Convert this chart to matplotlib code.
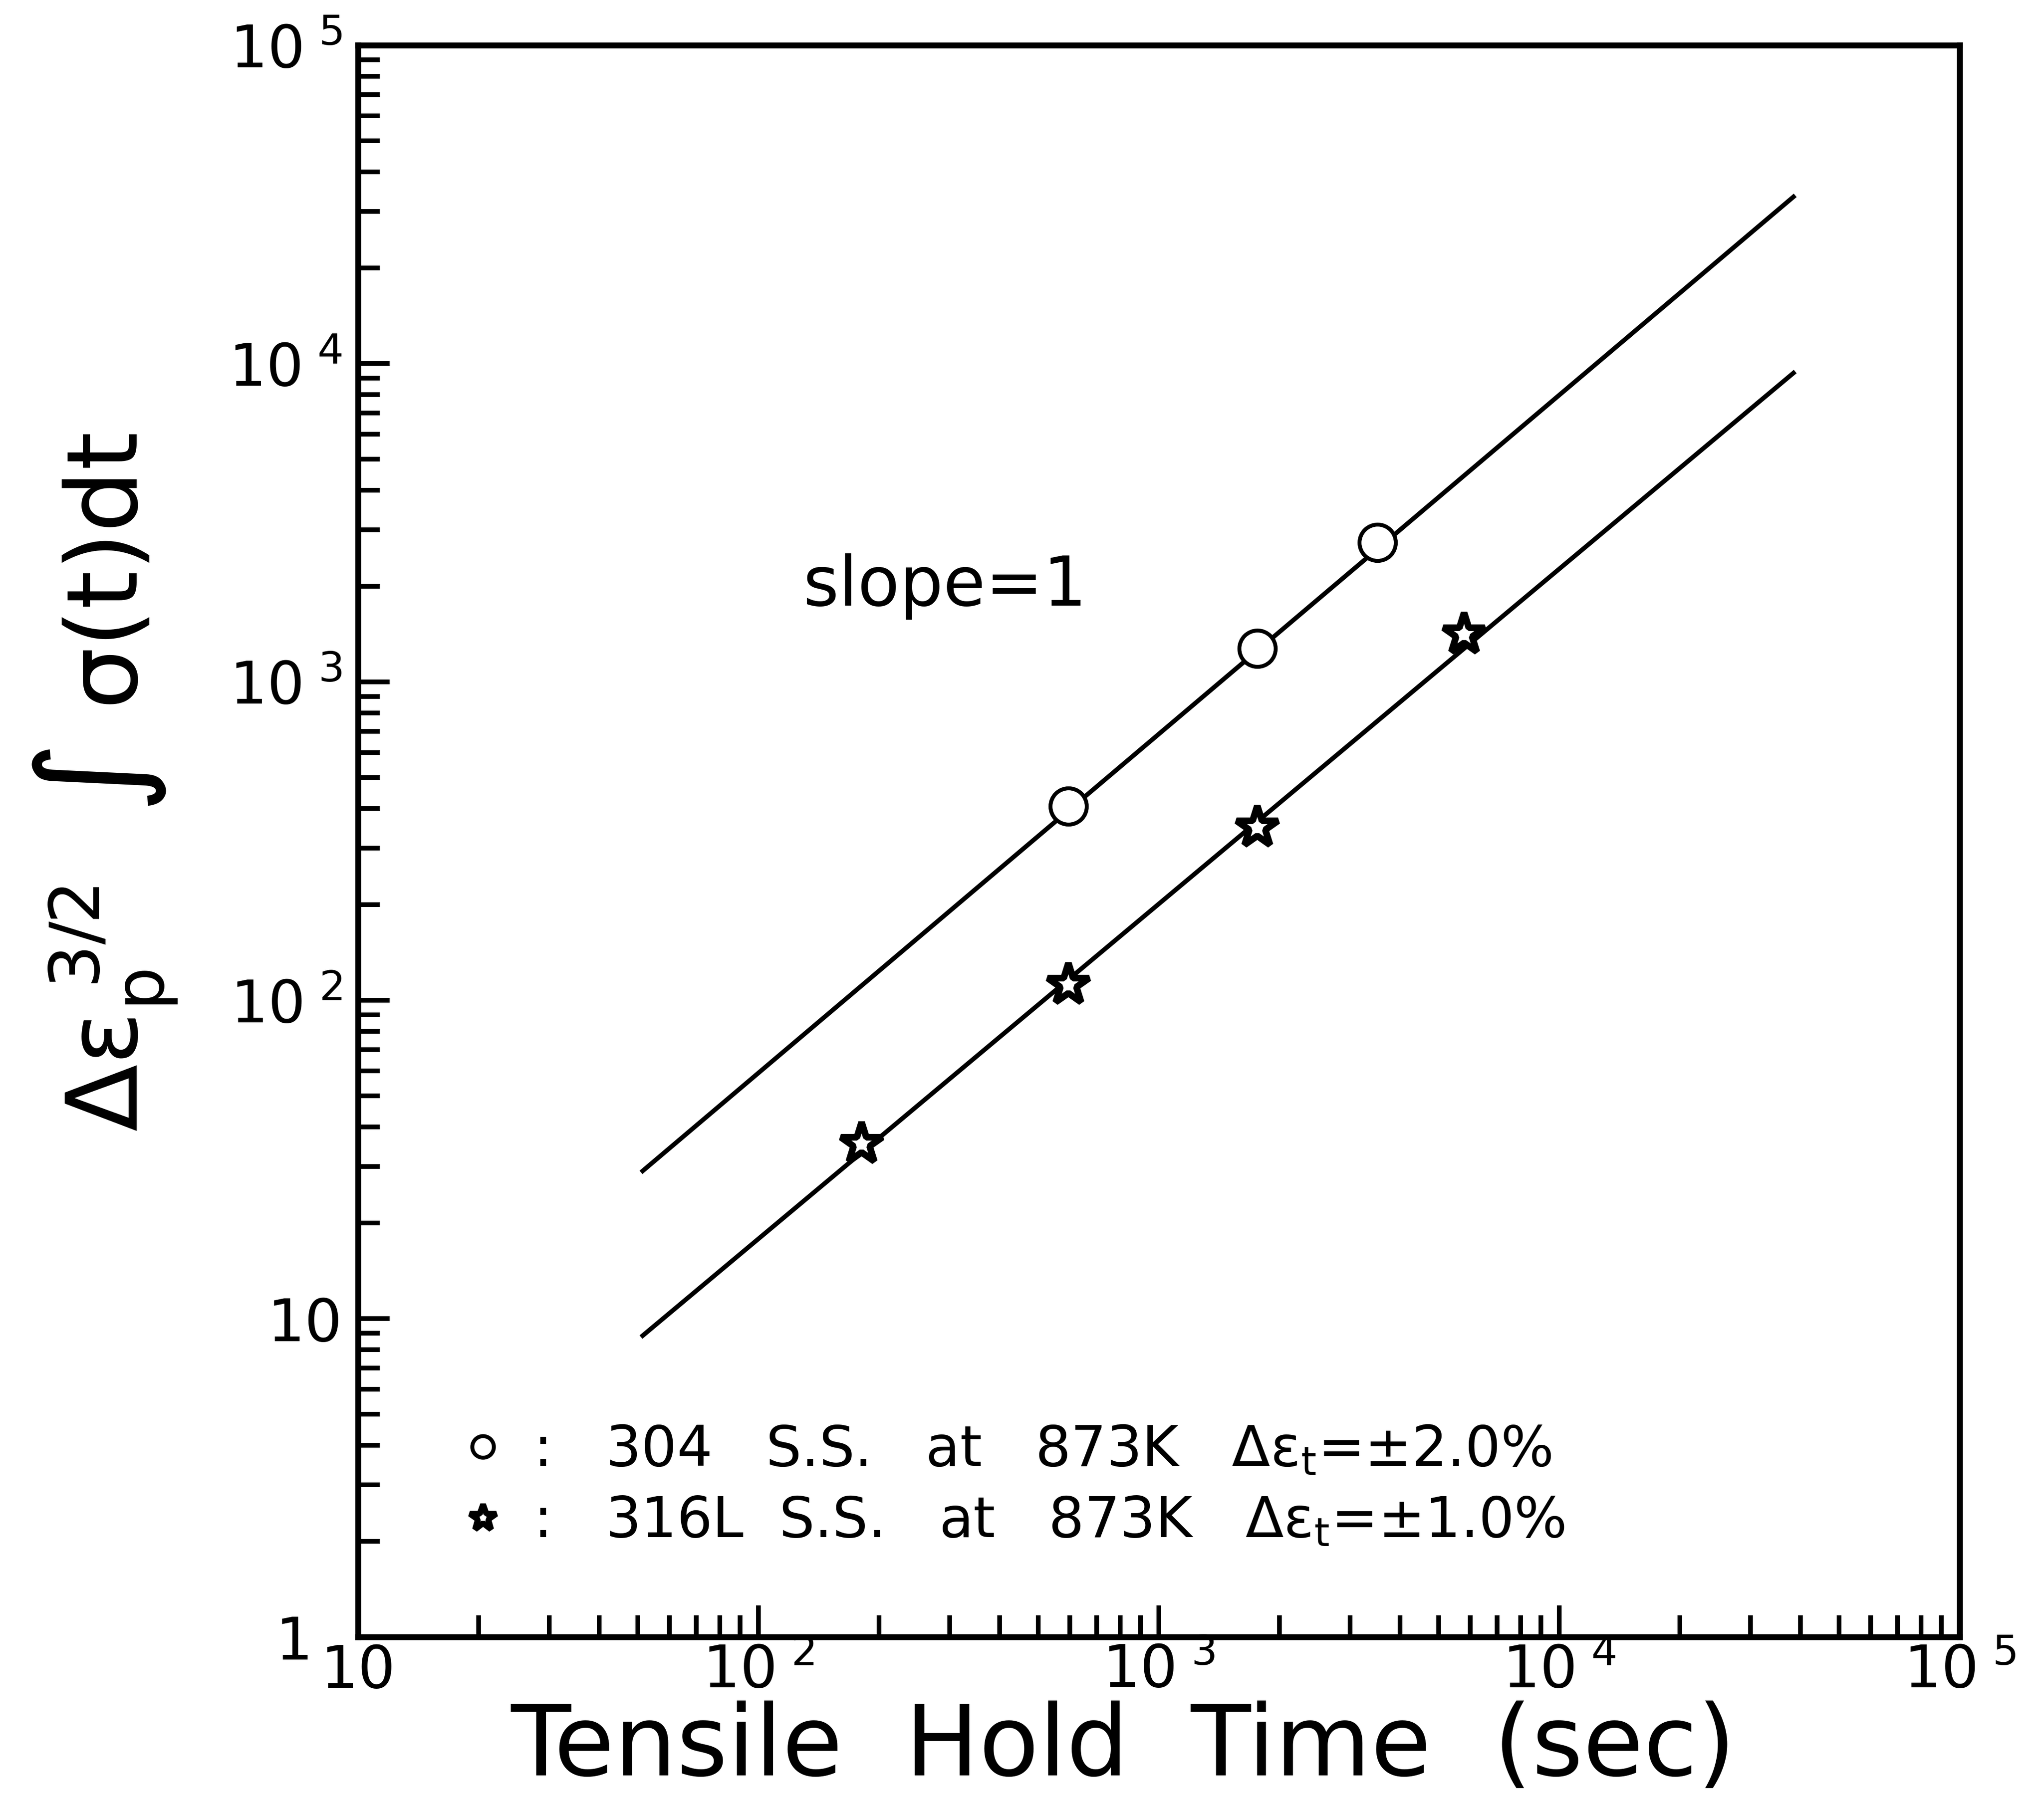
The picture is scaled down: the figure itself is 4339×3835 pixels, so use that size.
import matplotlib
matplotlib.use('Agg')
import matplotlib.pyplot as plt
from matplotlib.lines import Line2D
from matplotlib.ticker import FixedLocator, FixedFormatter, LogLocator, NullFormatter

# hold time (sec) and integrated stress term for each steel
t_304 = [595, 1760, 3510]
val_304 = [407, 1275, 2740]
t_316 = [181, 595, 1760, 5790]
val_316 = [35.4, 112, 349, 1410]

# slope-1 fit lines drawn through each data set
fit_t = [51.4, 38450]
fit_304 = [29.1, 33400]
fit_316 = [8.84, 9340]

label_304 = ':   304   S.S.   at   873K   Δε$_{\\mathrm{t}}$=±2.0%'
label_316 = ':   316L  S.S.   at   873K   Δε$_{\\mathrm{t}}$=±1.0%'

x_ticks = [10, 1e2, 1e3, 1e4, 1e5]
x_ticklabels = ['10', r'10$^{\ 2}$', r'10$^{\ 3}$', r'10$^{\ 4}$', r'10$^{\ 5}$']
y_ticks = [1, 10, 1e2, 1e3, 1e4, 1e5]
y_ticklabels = ['1', '10', r'10$^{\ 2}$', r'10$^{\ 3}$', r'10$^{\ 4}$', r'10$^{\ 5}$']

plt.rcParams['font.family'] = 'DejaVu Sans'
plt.rcParams['mathtext.fontset'] = 'dejavusans'

W, H = 4339, 3835
fig = plt.figure(figsize=(W / 300, H / 300), dpi=300)
ax = fig.add_axes([760 / W, (H - 3476) / H, 3400 / W, 3380 / H])

ax.plot(fit_t, fit_304, color='black', lw=2.3)
ax.plot(fit_t, fit_316, color='black', lw=2.3)
ax.plot(t_304, val_304, linestyle='none', marker='o', ms=18.5, mew=2.0,
        mfc='white', mec='black')
ax.plot(t_316, val_316, linestyle='none', marker='*', ms=22, mew=3.4,
        mfc='white', mec='black')

ax.set_xscale('log')
ax.set_yscale('log')
ax.set_xlim(10, 1e5)
ax.set_ylim(1, 1e5)

ax.xaxis.set_major_locator(FixedLocator(x_ticks))
ax.xaxis.set_major_formatter(FixedFormatter(x_ticklabels))
ax.yaxis.set_major_locator(FixedLocator(y_ticks))
ax.yaxis.set_major_formatter(FixedFormatter(y_ticklabels))
for axis in (ax.xaxis, ax.yaxis):
    axis.set_minor_locator(LogLocator(base=10, subs=range(2, 10), numticks=20))
    axis.set_minor_formatter(NullFormatter())

ax.tick_params(which='both', direction='in', top=False, right=False, width=2.4)
ax.tick_params(which='major', length=16, labelsize=30)
ax.tick_params(which='minor', length=11)
ax.tick_params(axis='x', which='major', pad=3)
ax.tick_params(axis='y', which='major', pad=8)
# the "1" at the origin sits further out so it clears the x-axis "10"
ax.yaxis.get_major_ticks()[0].set_pad(23)
for sp in ax.spines.values():
    sp.set_linewidth(3.0)

ax.set_xlabel('Tensile  Hold  Time  (sec)', fontsize=50)
ax.xaxis.set_label_coords(0.478, -0.040)
ax.set_ylabel(r'$\mathrm{Δε_p^{\ 3/2}}\ \ \int\ \mathrm{σ(t)dt}$', fontsize=50,
              rotation=90, ha='center', va='center')
ax.yaxis.set_label_coords(-0.158, 0.537)

ax.text(0.3665, 0.648, 'slope=1', transform=ax.transAxes, fontsize=35,
        ha='center', va='baseline')

handles = [
    Line2D([], [], linestyle='none', marker='o', ms=11, mew=2.0,
           mfc='white', mec='black'),
    Line2D([], [], linestyle='none', marker='*', ms=14, mew=3.0,
           mfc='white', mec='black'),
]
ax.legend(handles, [label_304, label_316], loc='lower left',
          bbox_to_anchor=(0.05, 0.041), frameon=False, fontsize=28.5,
          handlelength=0.8, handletextpad=0.5, labelspacing=0.3,
          borderaxespad=0)

fig.savefig('out.png', dpi=300)
